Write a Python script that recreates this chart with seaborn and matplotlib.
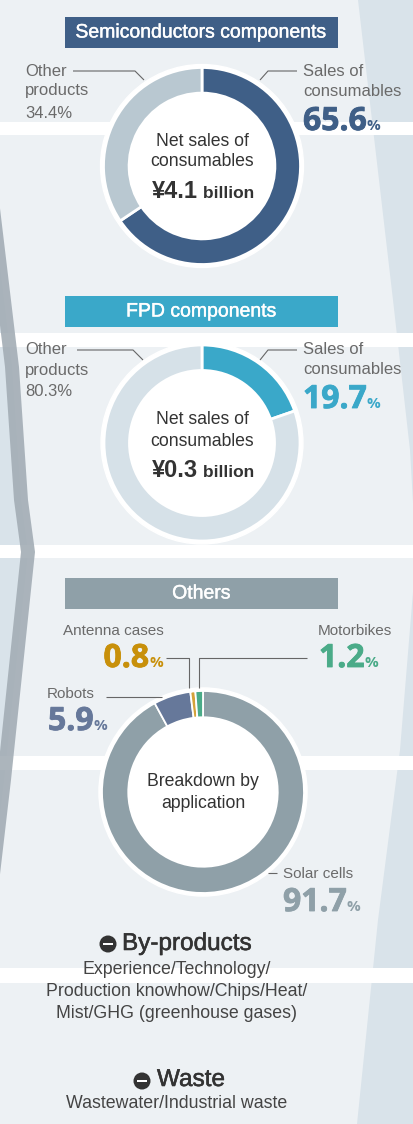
import matplotlib
matplotlib.use("Agg")
import matplotlib.pyplot as plt
import matplotlib.patheffects as pe
import seaborn as sns
from matplotlib.patches import Polygon, Rectangle, Circle

# ---------------- data ----------------
section_titles = ["Semiconductors components", "FPD components", "Others"]

semi_labels = ["Sales of consumables", "Other products"]
semi_values = [65.6, 34.4]
semi_net_sales = "¥4.1"

fpd_labels = ["Sales of consumables", "Other products"]
fpd_values = [19.7, 80.3]
fpd_net_sales = "¥0.3"

others_labels = ["Solar cells", "Robots", "Antenna cases", "Motorbikes"]
others_values = [91.7, 5.9, 0.8, 1.2]

byproducts_lines = ["Experience/Technology/", "Production knowhow/Chips/Heat/",
                    "Mist/GHG (greenhouse gases)"]
waste_lines = ["Wastewater/Industrial waste"]

# ---------------- style ----------------
sns.set_theme(style="white")
plt.rcParams['font.family'] = ['Liberation Sans', 'DejaVu Sans']

BG = '#edf1f4'
SIDE = '#d9e3ea'
STRIPE = '#a3adb5'
LABEL = '#6a6a6a'
DARK = '#333333'
semi_colors = ['#3f5f87', '#b9c8d1']
fpd_colors = ['#3aa8c9', '#d6e1e8']
others_colors = ['#8fa0a8', '#66789a', '#d4a23a', '#4aab88']
title_colors = ['#3f5f87', '#3aa8c9', '#8fa0a8']
NUMFONT = ['Open Sans', 'Liberation Sans', 'DejaVu Sans']

W, H = 414, 1124
fig = plt.figure(figsize=(W / 100, H / 100), dpi=100)
fig.patch.set_facecolor(BG)

bg = fig.add_axes([0, 0, 1, 1], zorder=0)
bg.set_xlim(0, W); bg.set_ylim(H, 0); bg.axis('off')

# white horizontal bands
for y0, y1 in [(122, 135), (333, 347), (545, 558), (756, 770), (968, 983)]:
    bg.add_patch(Rectangle((0, y0), W, y1 - y0, color='white', lw=0, zorder=1))

# right side light region
bg.add_patch(Polygon([(358, 0), (393, 300), (410, 450), (414, 520), (414, 580),
                      (400, 750), (378, 920), (357, 1124), (414, 1124), (414, 0)],
                     closed=True, color=SIDE, lw=0, zorder=0.5))

# left stripe and region
center = [(-8, 200), (12, 367), (21, 500), (28, 552), (4, 780), (-10, 900)]
bg.add_patch(Polygon([(0, 200)] + [(x, y) for x, y in center] + [(0, 900)],
                     closed=True, color=SIDE, lw=0, zorder=0.5))
hw = 7
stripe = [(x - hw, y) for x, y in center] + [(x + hw, y) for x, y in center[::-1]]
bg.add_patch(Polygon(stripe, closed=True, color=STRIPE, lw=0, alpha=0.9, zorder=2))

# ---------------- donuts ----------------
def donut(cx, cy, R, values, colors, width=0.26, lw=2.0):
    s = 2 * R * 1.1
    ax = fig.add_axes([(cx - s / 2) / W, 1 - (cy + s / 2) / H, s / W, s / H], zorder=1)
    ax.add_patch(Circle((0, 0), 1.03, color='white', zorder=0))
    ax.pie(values, colors=colors, startangle=90, counterclock=False, radius=1,
           wedgeprops=dict(width=width, edgecolor='white', linewidth=lw))
    ax.set_xlim(-1.1, 1.1); ax.set_ylim(-1.1, 1.1)
    ax.set_aspect('equal'); ax.axis('off')
    ax.patch.set_alpha(0)
    return ax

donut(202, 166, 98.5, semi_values, semi_colors)
donut(202, 443, 98, fpd_values, fpd_colors)
donut(203, 792, 101, others_values, others_colors, lw=1.3)

# ---------------- overlay (text, lines) ----------------
ov = fig.add_axes([0, 0, 1, 1], zorder=2)
ov.set_xlim(0, W); ov.set_ylim(H, 0); ov.axis('off'); ov.patch.set_alpha(0)
renderer = fig.canvas.get_renderer()

def mixed(x, y, parts, ha='left'):
    objs, widths = [], []
    for s, size, weight, color, fam, stroke in parts:
        kw = {}
        if stroke:
            kw['path_effects'] = [pe.withStroke(linewidth=stroke, foreground=color)]
        t = ov.text(0, y, s, fontsize=size, fontweight=weight, color=color,
                    va='baseline', ha='left', family=fam, fontstyle='normal', **kw)
        objs.append(t)
        widths.append(t.get_window_extent(renderer).width)
    total = sum(widths)
    start = x if ha == 'left' else (x - total if ha == 'right' else x - total / 2)
    for t, w in zip(objs, widths):
        t.set_x(start)
        start += w

def pct(x, y, value, color, ha='left', big=23, small=11):
    mixed(x, y, [(f"{value:.1f}", big, 'bold', color, NUMFONT, 0.6),
                 ("%", small, 'bold', color, NUMFONT, 0)], ha=ha)

def line(pts):
    xs, ys = zip(*pts)
    ov.plot(xs, ys, color='#666666', lw=0.8, solid_capstyle='butt')

# title boxes
for title, col, y0 in zip(section_titles, title_colors, [17, 296, 578]):
    ov.add_patch(Rectangle((65, y0), 273, 31, color=col, lw=0))
    ov.text(201.5, y0 + 16, title, color='white', fontsize=14, ha='center', va='center',
            path_effects=[pe.withStroke(linewidth=0.3, foreground='white')])

# ---- section 1 ----
ov.text(25, 72, "Other", fontsize=12, color=LABEL, va='center')
ov.text(25, 91, "products", fontsize=12, color=LABEL, va='center')
ov.text(25, 113, f"{semi_values[1]:.1f}%", fontsize=12, color=LABEL, va='center')
ov.text(303, 72, "Sales of", fontsize=12, color=LABEL, va='center')
ov.text(303, 91, "consumables", fontsize=12, color=LABEL, va='center')
pct(303, 130, semi_values[0], semi_colors[0])
line([(73, 71), (135, 71), (144, 80)])
line([(260, 80), (268, 71), (297, 71)])
ov.text(202, 142, "Net sales of", fontsize=12.7, color=DARK, ha='center', va='center')
ov.text(202, 162, "consumables", fontsize=12.7, color=DARK, ha='center', va='center')
mixed(203, 198, [(semi_net_sales, 17, 'bold', DARK, None, 0),
                 (" billion", 12.5, 'bold', DARK, None, 0)], ha='center')

# ---- section 2 ----
ov.text(25, 350, "Other", fontsize=12, color=LABEL, va='center')
ov.text(25, 370, "products", fontsize=12, color=LABEL, va='center')
ov.text(25, 392, f"{fpd_values[1]:.1f}%", fontsize=12, color=LABEL, va='center')
ov.text(303, 350, "Sales of", fontsize=12, color=LABEL, va='center')
ov.text(303, 370, "consumables", fontsize=12, color=LABEL, va='center')
pct(303, 408, fpd_values[0], fpd_colors[0])
line([(77, 350), (133, 350), (143, 360)])
line([(260, 360), (268, 350), (297, 350)])
ov.text(202, 420, "Net sales of", fontsize=12.7, color=DARK, ha='center', va='center')
ov.text(202, 442, "consumables", fontsize=12.7, color=DARK, ha='center', va='center')
mixed(203, 477, [(fpd_net_sales, 17, 'bold', DARK, None, 0),
                 (" billion", 12.5, 'bold', DARK, None, 0)], ha='center')

# ---- section 3 ----
ov.text(63, 631, others_labels[2], fontsize=11, color=LABEL, va='center')
pct(163, 667, others_values[2], '#c8900a', ha='right')
ov.text(318, 631, others_labels[3], fontsize=11, color=LABEL, va='center')
pct(319, 667, others_values[3], others_colors[3])
ov.text(47, 694, others_labels[1], fontsize=11, color=LABEL, va='center')
pct(48, 730, others_values[1], others_colors[1])
ov.text(283, 874, others_labels[0], fontsize=11, color=LABEL, va='center')
pct(283, 911, others_values[0], others_colors[0])
line([(166, 658), (189, 658), (189, 688)])
line([(307, 658), (199, 658), (199, 688)])
line([(106, 697), (162, 697)])
line([(268, 873), (277, 873)])
ov.text(203, 782, "Breakdown by", fontsize=12.7, color=DARK, ha='center', va='center')
ov.text(203, 803, "application", fontsize=12.7, color=DARK, ha='center', va='center')

# ---- bottom text ----
def bullet(x, y):
    ov.add_patch(Circle((x, y), 8.5, color=DARK, lw=0))
    ov.add_patch(Rectangle((x - 5, y - 1.3), 10, 2.6, color='white', lw=0))

heavy = [pe.withStroke(linewidth=0.4, foreground=DARK)]
bullet(108, 944)
ov.text(122, 944, "By-products", fontsize=17.5, color=DARK, va='center', path_effects=heavy)
for i, s in enumerate(byproducts_lines):
    ov.text(177, 969 + 22 * i, s, fontsize=12.8, color='#444444', ha='center', va='center')
bullet(142, 1081)
ov.text(157, 1080, "Waste", fontsize=17.5, color=DARK, va='center', path_effects=heavy)
ov.text(177, 1104, waste_lines[0], fontsize=12.8, color='#444444', ha='center', va='center')

fig.savefig("out.png", dpi=100, facecolor=fig.get_facecolor())
